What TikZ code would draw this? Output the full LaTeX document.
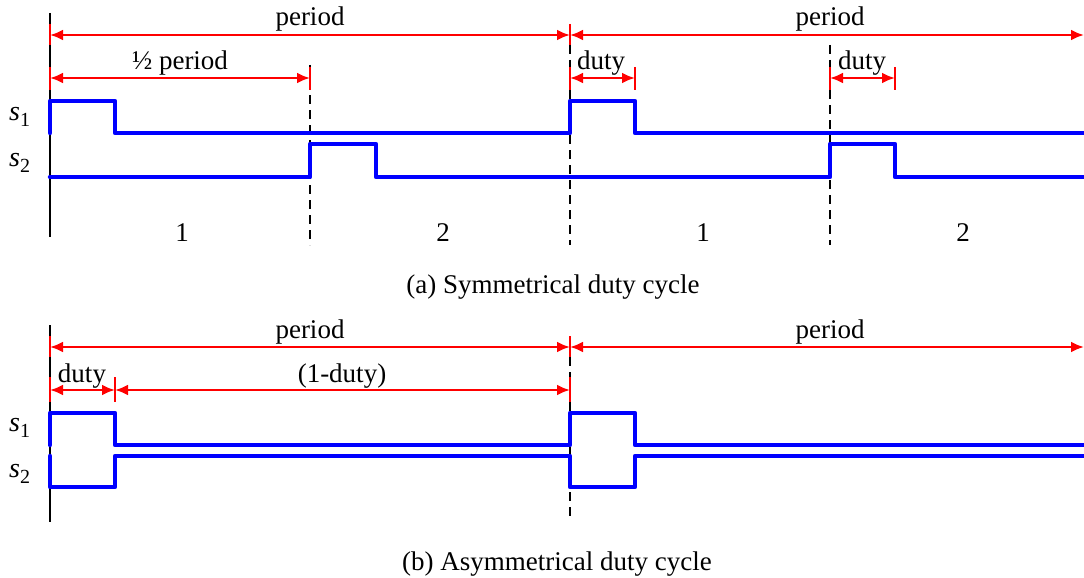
\documentclass[tikz,border=0pt]{standalone}
\usepackage{fontspec}
\setmainfont{Liberation Serif}
\usetikzlibrary{arrows.meta}
\begin{document}
\begin{tikzpicture}[x=1pt,y=-1pt,
  wave/.style={blue, line width=4.5pt, line join=round, line cap=round},
  dimline/.style={red, line width=2.4pt, {Latex[length=13pt,width=11pt]}-{Latex[length=13pt,width=11pt]}},
  dimend/.style={red, line width=2.4pt},
  axisline/.style={black, line width=1.5pt},
  guide/.style={black, line width=1.5pt, dash pattern=on 9pt off 6pt},
  lbl/.style={font=\fontsize{27}{31}\selectfont, inner sep=0pt, anchor=base},
  sig/.style={font=\fontsize{28}{31}\selectfont, inner sep=0pt, anchor=base west},
]
\useasboundingbox (0,0) rectangle (1084,578);
\newcommand{\sub}[1]{\raisebox{-6pt}{\fontsize{20}{20}\selectfont #1}}

% ---------- (a) symmetrical duty cycle ----------
\draw[axisline] (50,13) -- (50,237);
\draw[guide] (310,65) -- (310,245);
\draw[guide] (570,45) -- (570,245);
\draw[guide] (830,45) -- (830,245);

% dimension end marks
\foreach \x in {50,570} \draw[dimend] (\x,24) -- (\x,45);
\foreach \x in {50,310,570,635,830,895} \draw[dimend] (\x,67) -- (\x,90);

\coordinate (pa0) at (50,35);
\coordinate (pa1) at (570,35);
\coordinate (pa2) at (1084,35);
\coordinate (ha0) at (50,78);
\coordinate (ha1) at (310,78);
\coordinate (da0) at (570,78);
\coordinate (da1) at (635,78);
\coordinate (db0) at (830,78);
\coordinate (db1) at (895,78);

\draw[dimline] (pa0) -- (pa1);
\draw[dimline] (pa1) -- (pa2);
\draw[dimline] (ha0) -- (ha1);
\draw[dimline] (da0) -- (da1);
\draw[dimline] (db0) -- (db1);

\node[lbl] (perA1) at (310,26) {period};
\node[lbl] (perA2) at (830,26) {period};
\node[lbl] (half) at (180,70) {½ period};
\node[lbl] (dutyA1) at (601,70) {duty};
\node[lbl] (dutyA2) at (862,70) {duty};

% switching signals
\draw[wave] (50,133) -- (50,101) -- (115,101) -- (115,133) -- (570,133) -- (570,101)
  -- (635,101) -- (635,133) -- (1084,133);
\draw[wave] (50,177) -- (310,177) -- (310,144) -- (376,144) -- (376,177) -- (830,177)
  -- (830,144) -- (895,144) -- (895,177) -- (1084,177);

\node[sig] (s1a) at (9,120) {\textit{s}\sub{1}};
\node[sig] (s2a) at (9,166) {\textit{s}\sub{2}};

\node[lbl] (ph1) at (182,241) {1};
\node[lbl] (ph2) at (443,241) {2};
\node[lbl] (ph3) at (703,241) {1};
\node[lbl] (ph4) at (963,241) {2};

\node[lbl] (capA) at (553,293) {(a) Symmetrical duty cycle};

% ---------- (b) asymmetrical duty cycle ----------
\draw[axisline] (50,325) -- (50,522);
\draw[guide] (570,357) -- (570,518);

\foreach \x in {50,570} \draw[dimend] (\x,336) -- (\x,357);
\foreach \x in {50,115,570} \draw[dimend] (\x,377) -- (\x,402);

\coordinate (pb0) at (50,347);
\coordinate (pb1) at (570,347);
\coordinate (pb2) at (1084,347);
\coordinate (qb0) at (50,390);
\coordinate (qb1) at (115,390);
\coordinate (qb2) at (570,390);

\draw[dimline] (pb0) -- (pb1);
\draw[dimline] (pb1) -- (pb2);
\draw[dimline] (qb0) -- (qb1);
\draw[dimline] (qb1) -- (qb2);

\node[lbl] (perB1) at (310,338) {period};
\node[lbl] (perB2) at (830,338) {period};
\node[lbl] (dutyB) at (82,382) {duty};
\node[lbl] (rest) at (342,382) {(1-duty)};

\draw[wave] (50,445) -- (50,413) -- (115,413) -- (115,445) -- (570,445) -- (570,413)
  -- (635,413) -- (635,445) -- (1084,445);
\draw[wave] (50,456) -- (50,487) -- (115,487) -- (115,456) -- (570,456) -- (570,487)
  -- (635,487) -- (635,456) -- (1084,456);

\node[sig] (s1b) at (9,431) {\textit{s}\sub{1}};
\node[sig] (s2b) at (9,477) {\textit{s}\sub{2}};

\node[lbl] (capB) at (557,570) {(b) Asymmetrical duty cycle};
\end{tikzpicture}
\end{document}
